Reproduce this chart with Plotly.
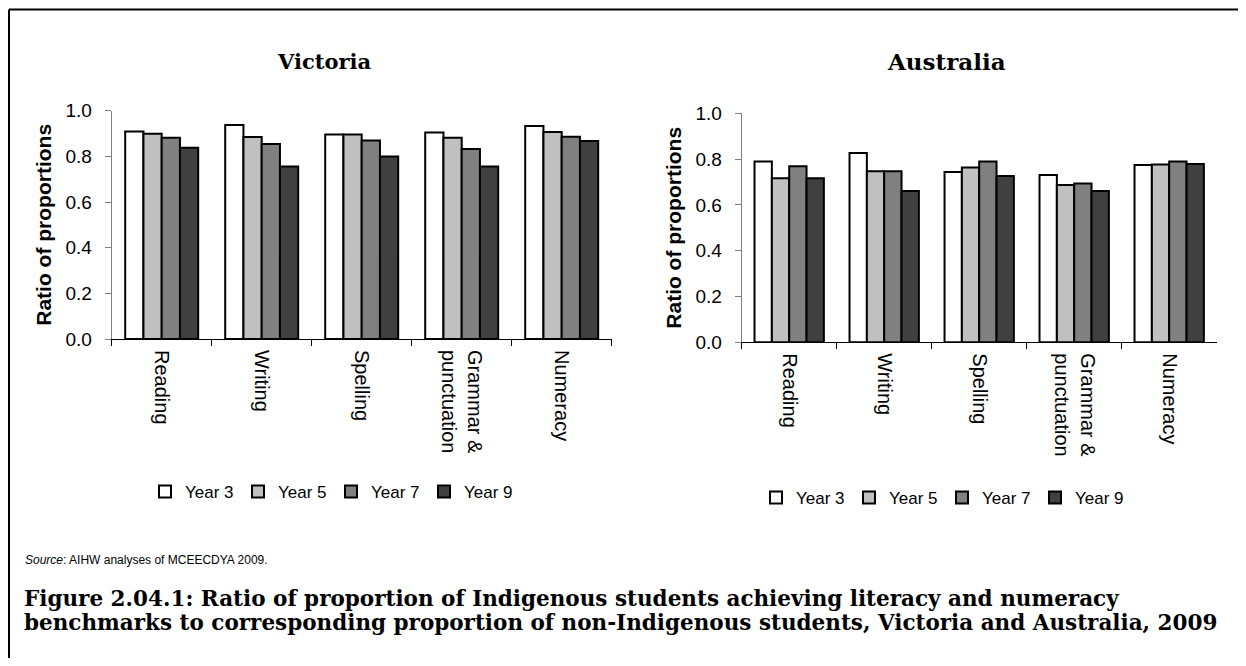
import plotly.graph_objects as go

W, H = 1230, 650  # page body margin of 8px on every side fills the 1246x666 view
OFF = 8

categories = ["Reading", "Writing", "Spelling", "Grammar &<br>punctuation", "Numeracy"]
years = ["Year 3", "Year 5", "Year 7", "Year 9"]
colors = ["#FFFFFF", "#C0C0C0", "#808080", "#404040"]

vic_y3 = [0.909, 0.937, 0.896, 0.904, 0.933]
vic_y5 = [0.899, 0.885, 0.896, 0.882, 0.907]
vic_y7 = [0.882, 0.854, 0.869, 0.832, 0.886]
vic_y9 = [0.838, 0.756, 0.799, 0.756, 0.867]

aus_y3 = [0.790, 0.827, 0.744, 0.731, 0.774]
aus_y5 = [0.716, 0.747, 0.763, 0.687, 0.776]
aus_y7 = [0.769, 0.747, 0.790, 0.693, 0.790]
aus_y9 = [0.716, 0.661, 0.726, 0.661, 0.779]

y_ticks = [0.0, 0.2, 0.4, 0.6, 0.8, 1.0]

vic = [vic_y3, vic_y5, vic_y7, vic_y9]
aus = [aus_y3, aus_y5, aus_y7, aus_y9]


def px(x):
    return (x - OFF) / W


def py(y):
    return 1 - (y - OFF) / H


fig = go.Figure()
for name, col, vals in zip(years, colors, vic):
    fig.add_trace(go.Bar(x=categories, y=vals, name=name,
                         marker=dict(color=col, line=dict(color="black", width=2)),
                         xaxis="x", yaxis="y", legend="legend"))
for name, col, vals in zip(years, colors, aus):
    fig.add_trace(go.Bar(x=categories, y=vals, name=name,
                         marker=dict(color=col, line=dict(color="black", width=2)),
                         xaxis="x2", yaxis="y2", legend="legend2"))

font_sans = "Liberation Sans, Arial, sans-serif"
font_serif = "DejaVu Serif, serif"

xcommon = dict(type="category", tickangle=90, ticks="outside", tickson="boundaries", ticklen=6,
               tickcolor="black", showline=True, linecolor="black", linewidth=1,
               ticklabelstandoff=6,
               tickfont=dict(family=font_sans, size=20, color="black"), automargin=False, showgrid=False)
ycommon = dict(range=[0, 1.0], tickvals=y_ticks, tickformat=".1f", ticks="outside", ticklen=6,
               tickcolor="#808080", showline=True, linecolor="#808080", linewidth=1, showgrid=False,
               zeroline=False, tickfont=dict(family=font_sans, size=19, color="black"), automargin=False,
               ticklabelstandoff=9,
               title=dict(text="<b>Ratio of proportions</b>", font=dict(family=font_sans, size=21, color="black"),
                          standoff=8))

fig.update_layout(
    width=W, height=H,
    margin=dict(l=0, r=0, t=0, b=0),
    paper_bgcolor="white", plot_bgcolor="white",
    barmode="group", bargap=0.27, bargroupgap=0,
    xaxis=dict(domain=[px(111.7), px(611.7)], anchor="y", **xcommon),
    yaxis=dict(domain=[py(339), py(110.7)], anchor="x", **ycommon),
    xaxis2=dict(domain=[px(741.7), px(1216.7)], anchor="y2", **xcommon),
    yaxis2=dict(domain=[py(342.3), py(113.3)], anchor="x2", **ycommon),
    legend=dict(orientation="h", x=px(331), y=py(492), xanchor="center", yanchor="middle",
                font=dict(family=font_sans, size=17, color="black"), itemwidth=30,
                entrywidth=48, bgcolor="rgba(0,0,0,0)"),
    legend2=dict(orientation="h", x=px(942), y=py(498), xanchor="center", yanchor="middle",
                 font=dict(family=font_sans, size=17, color="black"), itemwidth=30,
                 entrywidth=48, bgcolor="rgba(0,0,0,0)"),
    showlegend=True,
)

annotations = [
    dict(text="<b>Victoria</b>", x=px(324), y=py(62), xref="paper", yref="paper", showarrow=False,
         font=dict(family=font_serif, size=21, color="black"), xanchor="center", yanchor="middle"),
    dict(text="<b>Australia</b>", x=px(885), y=py(62), xref="paper", yref="paper", showarrow=False,
         font=dict(family=font_serif, size=23, color="black"), xanchor="left", yanchor="middle"),
    dict(text="<i>Source</i>: AIHW analyses of MCEECDYA 2009.", x=px(23), y=py(560), xref="paper", yref="paper",
         showarrow=False, font=dict(family=font_sans, size=12, color="black"), xanchor="left", yanchor="middle"),
    dict(text="<b>Figure 2.04.1: Ratio of proportion of Indigenous students achieving literacy and numeracy</b>",
         x=px(22), y=py(598), xref="paper", yref="paper", showarrow=False,
         font=dict(family=font_serif, size=21.5, color="black"), xanchor="left", yanchor="middle"),
    dict(text="<b>benchmarks to corresponding proportion of non-Indigenous students, Victoria and Australia, 2009</b>",
         x=px(22), y=py(622), xref="paper", yref="paper", showarrow=False,
         font=dict(family=font_serif, size=21.5, color="black"), xanchor="left", yanchor="middle"),
]
fig.update_layout(annotations=annotations)

# outer frame: only the top and left edges fall inside the view
fig.add_shape(type="line", xref="paper", yref="paper", x0=px(9), x1=px(1262), y0=py(9.5), y1=py(9.5),
              line=dict(color="black", width=2))
fig.add_shape(type="line", xref="paper", yref="paper", x0=px(9), x1=px(9), y0=py(9.5), y1=py(700),
              line=dict(color="black", width=2))

fig.write_html("out.html")
